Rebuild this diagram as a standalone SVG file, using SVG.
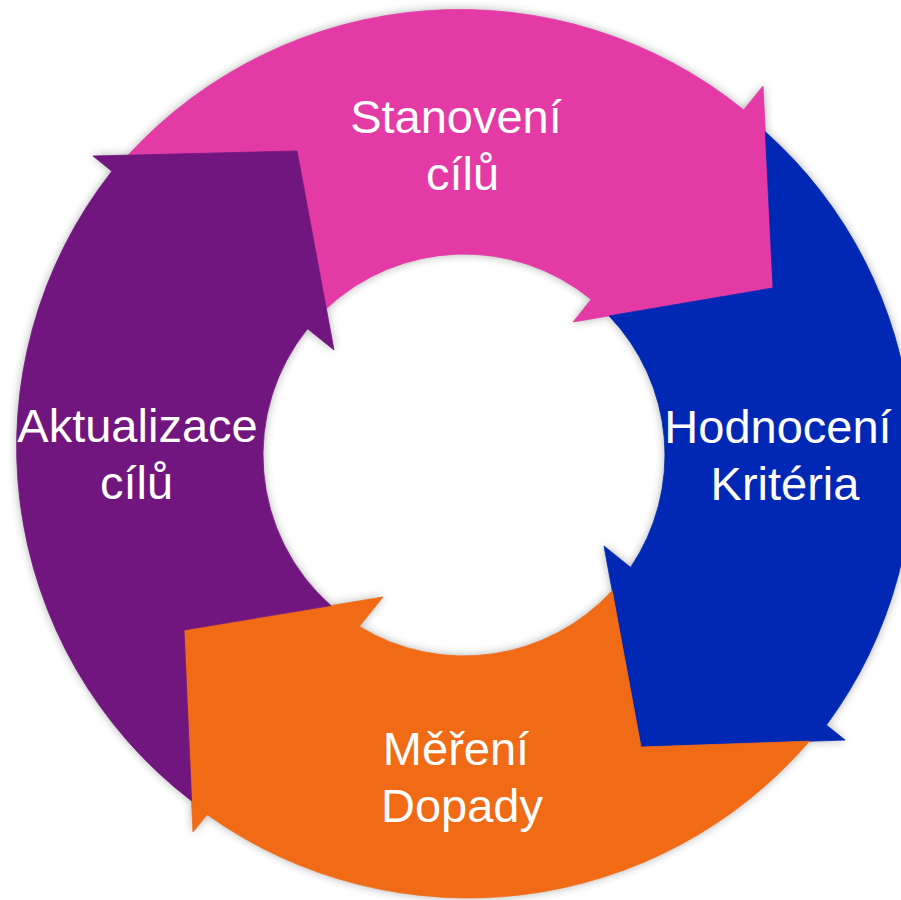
<svg xmlns="http://www.w3.org/2000/svg" xmlns:xlink="http://www.w3.org/1999/xlink" width="901" height="900" viewBox="0 0 901 900">
  <defs>
    <filter id="soft" x="-10%" y="-10%" width="120%" height="120%">
      <feGaussianBlur in="SourceAlpha" stdDeviation="5"/>
      <feComponentTransfer><feFuncA type="linear" slope="0.3"/></feComponentTransfer>
    </filter>
  </defs>
  <style>
    .arrow { stroke-width: 0.8; stroke-linejoin: round; }
    .pink { fill: #E43AA6; stroke: #E43AA6; }
    .blue { fill: #0128B4; stroke: #0128B4; }
    .orange { fill: #F16A15; stroke: #F16A15; }
    .purple { fill: #71157F; stroke: #71157F; }
    .label { fill: #FFFFFF; font-family: "Liberation Sans", Arial, sans-serif; font-size: 47px; text-anchor: middle; }
  </style>
  <rect width="901" height="900" fill="#FFFFFF"/>

  <g id="shadow" filter="url(#soft)">
    <use href="#p-stanoveni"/>
    <use href="#p-hodnoceni"/>
    <use href="#p-mereni"/>
    <use href="#p-aktualizace"/>
  </g>

  <g id="node-stanoveni">
    <path id="p-stanoveni" class="arrow pink" d="M128.1,155.1 A451,451 0 0 1 743.7,109.9 L763,86 L773,288 L573,322 L591.2,299.4 A201,201 0 0 0 326.3,308.6 L297,151 Z"/>
    <text class="label" x="456" y="133">Stanovení</text>
    <text class="label" x="462.5" y="190">cílů</text>
  </g>

  <g id="node-hodnoceni">
    <path id="p-hodnoceni" class="arrow blue" d="M765.3,131.7 A443,443 0 0 1 826.4,725.1 L845,740 L641,747 L604,546 L630.6,567.4 A201,201 0 0 0 609.1,315.9 L773,288 Z"/>
    <text class="label" x="778" y="443">Hodnocení</text>
    <text class="label" x="785" y="500">Kritéria</text>
  </g>

  <g id="node-mereni">
    <path id="p-mereni" class="arrow orange" d="M809.3,741.2 A450,450 0 0 1 207.1,814.6 L193,832 L184,630 L383,597 L359.2,626.5 A201,201 0 0 0 612.2,590.7 L641,747 Z"/>
    <text class="label" x="456" y="765">Měření</text>
    <text class="label" x="462" y="822">Dopady</text>
  </g>

  <g id="node-aktualizace">
    <path id="p-aktualizace" class="arrow purple" d="M191.6,800.9 A446,446 0 0 1 111.9,171.2 L93,156 L297,151 L334,350 L307.6,328.7 A201,201 0 0 0 330.9,605.6 L184,630 Z"/>
    <text class="label" x="137.5" y="442">Aktualizace</text>
    <text class="label" x="136.5" y="499">cílů</text>
  </g>

  <g id="connectors"/>
</svg>
